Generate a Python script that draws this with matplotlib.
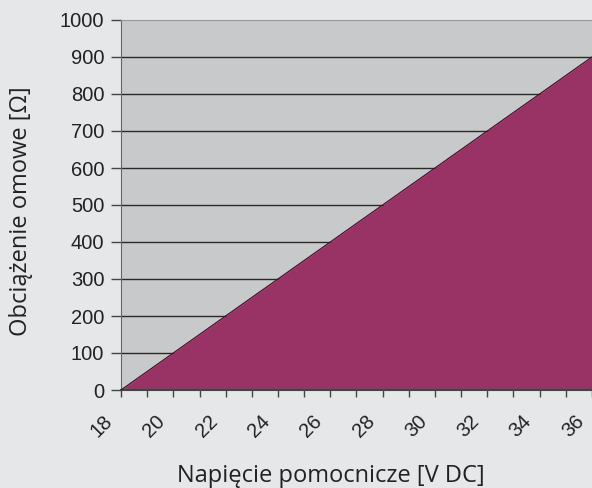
import matplotlib.pyplot as plt
from matplotlib.ticker import MultipleLocator

# data
voltage = [18, 36]          # V DC
load = [0, 900]             # Ohm
x_ticks = list(range(18, 37, 2))
y_ticks = list(range(0, 1001, 100))

fig = plt.figure(figsize=(5.92, 4.88), dpi=100)
fig.patch.set_facecolor('#e6e7e8')

ax = fig.add_axes([121 / 592, 98 / 488, 471 / 592, 370 / 488])
ax.set_facecolor('#c8c9ca')

# grid lines
for y in y_ticks[1:-1]:
    ax.axhline(y, color='#2a2a2a', lw=1.0, zorder=1)

ax.fill_between(voltage, 0, load, color='#993366', zorder=2, lw=0)
ax.plot(voltage, load, color='#222222', lw=0.9, zorder=3)

ax.set_xlim(18, 36)
ax.set_ylim(0, 1000)
ax.set_xticks(x_ticks)
ax.set_xticklabels([])
ax.set_yticks(y_ticks)
ax.xaxis.set_minor_locator(MultipleLocator(1))

ax.tick_params(axis='both', labelsize=14.5, colors='#222222',
               labelcolor='#222222', direction='out')
ax.tick_params(axis='x', which='both', length=5, width=1, color='#444444')
ax.tick_params(axis='y', length=7, width=1, color='#444444', pad=5)
for lab in ax.get_yticklabels():
    lab.set_fontfamily('Liberation Sans')

# rotated x tick labels, placed down-left of each tick
for x in x_ticks:
    ax.annotate(str(x), xy=(x, 0), xycoords=('data', 'axes fraction'),
                xytext=(-19, -36), textcoords='offset pixels',
                rotation=45, ha='center', va='center',
                rotation_mode='anchor', fontsize=14.5,
                family='Liberation Sans', color='#222222',
                annotation_clip=False)

ax.spines['top'].set_color('#999999')
ax.spines['right'].set_visible(False)
ax.spines['left'].set_color('#666666')
ax.spines['bottom'].set_color('#444444')
ax.spines['bottom'].set_linewidth(1.5)

fig.text(331 / 592, 1 - 476 / 488, 'Napięcie pomocnicze [V DC]',
         ha='center', va='center', fontsize=17, color='#222222',
         family='Open Sans')
fig.text(21 / 592, 1 - 211 / 488, 'Obciążenie omowe [Ω]', rotation=90,
         ha='center', va='center', fontsize=17, color='#222222',
         family='Open Sans')

fig.savefig('out.png', dpi=100, facecolor=fig.get_facecolor())
